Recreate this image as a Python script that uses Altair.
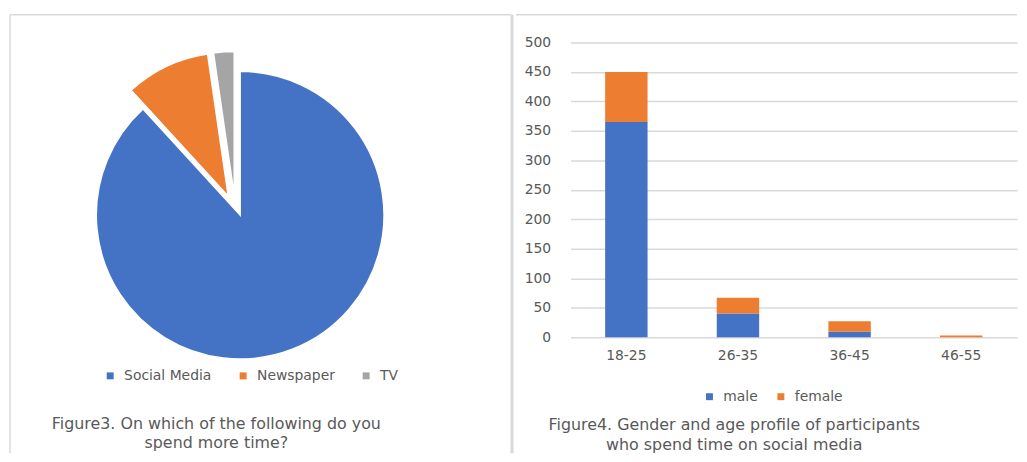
import altair as alt
import pandas as pd

# ---------------- data ----------------
media = ["Social Media", "Newspaper", "TV"]
media_share = [88.2, 9.5, 2.3]

ages = ["18-25", "26-35", "36-45", "46-55"]
genders = ["male", "female"]
male = [365, 40, 9, 0]
female = [85, 27, 18, 3]

y_ticks = [0, 50, 100, 150, 200, 250, 300, 350, 400, 450, 500]

caption3 = ["Figure3. On which of the following do you", "spend more time?"]
caption4 = ["Figure4. Gender and age profile of participants",
            "who spend time on social media"]

# ---------------- style ----------------
BLUE, ORANGE, GRAY = "#4472C4", "#ED7D31", "#A5A5A5"
TEXT, LINE = "#595959", "#D9D9D9"
FONT = "DejaVu Sans"

TOP = -28                  # frame top relative to the plot origin
LW, LH = 505, 414          # left panel
RW, RH = 450, 297          # right plot area
CX, CY, R = 232, 174, 145  # pie centre / radius
explode = {"Social Media": (0, 0), "Newspaper": (-12, -19), "TV": (-6, -20)}

pie_df = pd.DataFrame({"media": media, "share": media_share,
                       "ord": list(range(len(media)))})
rows = []
for i, a in enumerate(ages):
    rows.append({"age": a, "gender": "male", "count": male[i], "ord": 0})
    rows.append({"age": a, "gender": "female", "count": female[i], "ord": 1})
bar_df = pd.DataFrame(rows)
one = pd.DataFrame({"k": [0]})

# ---------------- left: pie ----------------
pie_legend = alt.Legend(title=None, orient="none", legendX=94, legendY=329,
                        direction="horizontal", symbolType="square",
                        symbolSize=49, symbolStrokeWidth=0, labelFont=FONT,
                        labelFontSize=14, labelColor=TEXT, columnPadding=24,
                        labelOffset=7)

base = alt.Chart(pie_df).transform_stack(
    stack="share", as_=["t0", "t1"], groupby=[], offset="normalize",
    sort=[alt.SortField("ord", order="ascending")])

slices = []
for name in media:
    dx, dy = explode[name]
    slices.append(
        base.transform_filter(alt.datum.media == name)
        .mark_arc(radius=R, stroke="white", strokeWidth=1.5, xOffset=dx, yOffset=dy)
        .encode(
            x=alt.value(CX), y=alt.value(CY),
            theta=alt.Theta("t0:Q", scale=alt.Scale(domain=[0, 1])),
            theta2="t1:Q",
            color=alt.Color("media:N", sort=media,
                            scale=alt.Scale(domain=media, range=[BLUE, ORANGE, GRAY]),
                            legend=pie_legend),
        )
    )

left_border = alt.Chart(one).mark_rule(color=LINE, strokeWidth=1.5).encode(
    x=alt.value(0), y=alt.value(TOP), y2=alt.value(LH))
mid_border = alt.Chart(one).mark_rule(color=LINE, strokeWidth=3).encode(
    x=alt.value(LW + 1), y=alt.value(TOP), y2=alt.value(LH))
top_border = alt.Chart(one).mark_rule(color=LINE, strokeWidth=1.5).encode(
    x=alt.value(0), x2=alt.value(LW), y=alt.value(TOP))
cap3 = alt.Chart(one).mark_text(
    text=caption3, font=FONT, fontSize=16, color=TEXT, align="center",
    baseline="middle", lineHeight=19).encode(x=alt.value(208), y=alt.value(385))

left = alt.layer(*slices, left_border, mid_border, top_border, cap3).properties(
    width=LW, height=LH)

# ---------------- right: stacked bars ----------------
bar_legend = alt.Legend(title=None, orient="none", legendX=133, legendY=350,
                        direction="horizontal", symbolType="square",
                        symbolSize=49, symbolStrokeWidth=0, labelFont=FONT,
                        labelFontSize=14, labelColor=TEXT, columnPadding=16,
                        labelOffset=7)

bars = alt.Chart(bar_df).mark_bar().encode(
    x=alt.X("age:N", sort=ages,
            scale=alt.Scale(paddingInner=0.62, paddingOuter=0.31),
            axis=alt.Axis(title=None, labelAngle=0, domain=False, ticks=False,
                          labelPadding=12, labelFont=FONT, labelFontSize=14,
                          labelColor=TEXT, grid=False)),
    y=alt.Y("count:Q", stack="zero", scale=alt.Scale(domain=[0, 500]),
            axis=alt.Axis(title=None, values=y_ticks, domain=False, ticks=False,
                          labelPadding=20, labelFont=FONT, labelFontSize=14,
                          labelColor=TEXT, grid=True, gridColor=LINE,
                          gridWidth=1.5)),
    color=alt.Color("gender:N", sort=genders,
                    scale=alt.Scale(domain=genders, range=[BLUE, ORANGE]),
                    legend=bar_legend),
    order=alt.Order("ord:Q", sort="ascending"),
)

right_top = alt.Chart(one).mark_rule(color=LINE, strokeWidth=1.5).encode(
    x=alt.value(-55), x2=alt.value(RW), y=alt.value(TOP))
cap4 = alt.Chart(one).mark_text(
    text=caption4, font=FONT, fontSize=16, color=TEXT, align="center",
    baseline="middle", lineHeight=20).encode(x=alt.value(165), y=alt.value(386))

right = alt.layer(bars, right_top, cap4).properties(width=RW, height=RH)

chart = (
    alt.hconcat(left, right, spacing=0)
    .resolve_scale(color="independent")
    .properties(padding={"left": 0, "top": 3, "right": 0, "bottom": 0},
                background="white")
    .configure_view(stroke="transparent")
)

chart.save("out.html", embed_options={"renderer": "svg", "actions": False})
